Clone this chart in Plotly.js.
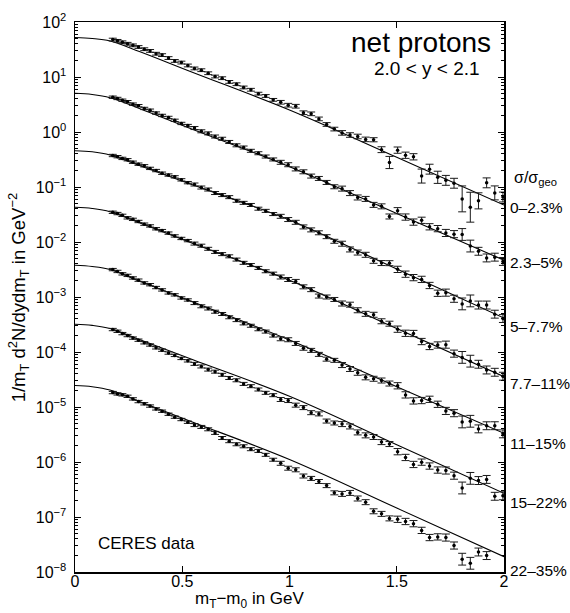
<!DOCTYPE html>
<html><head><meta charset="utf-8">
<script src="https://cdn.plot.ly/plotly-3.0.1.min.js"></script>
<style>html,body{margin:0;padding:0;background:#fff}#chart{width:570px;height:613px}</style>
</head><body><div id="chart"></div>
<script>
// m_T - m_0 bin centres (GeV)
const xBins = [0.176,0.198,0.221,0.245,0.270,0.296,0.323,0.350,0.378,0.406,0.436,0.465,0.496,0.526,0.557,0.589,0.621,0.653,0.686,0.719,0.753,0.786,0.820,0.855,0.889,0.924,0.959,0.994,1.029,1.065,1.101,1.137,1.173,1.209,1.245,1.282,1.318,1.355,1.392,1.429,1.466,1.504,1.541,1.578,1.616,1.653,1.691,1.729,1.767,1.805,1.843,1.881,1.919,1.957,1.995];

// spectra per centrality class (already offset by the plot's scale factors)
const s1 = [47.9,45.4,42.8,40.2,37.6,35.1,32.0,29.8,26.5,25.0,22.1,19.6,18.3,16.2,14.3,13.3,11.7,10.2,9.51,8.14,7.39,6.45,5.86,4.98,4.52,3.84,3.47,3.07,2.94,2.24,2.14,1.73,1.37,1.13,0.963,0.881,0.829,0.734,0.723,0.477,0.279,0.468,0.378,0.354,0.158,0.211,0.150,0.132,0.117,0.0608,0.0429,0.056,0.119,0.0781,0.0657];
const s2 = [4.29,4.07,3.78,3.56,3.21,3.01,2.68,2.49,2.21,2.00,1.84,1.63,1.43,1.31,1.18,1.03,0.944,0.828,0.754,0.659,0.573,0.522,0.455,0.411,0.358,0.317,0.281,0.254,0.213,0.189,0.158,0.143,0.121,0.101,0.0934,0.0775,0.0645,0.0607,0.0473,0.0445,0.0291,0.0370,0.0284,0.0230,0.0248,0.0189,0.0175,0.0146,0.0139,0.0137,0.00844,0.00678,0.00513,0.00530,0.00443];
const s3 = [0.374,0.356,0.331,0.313,0.282,0.260,0.243,0.218,0.199,0.178,0.165,0.153,0.135,0.120,0.111,0.0978,0.0900,0.0777,0.0713,0.0654,0.0562,0.0515,0.0471,0.0403,0.0368,0.0322,0.0293,0.0256,0.0228,0.0188,0.0166,0.0147,0.0125,0.0103,0.00931,0.00732,0.00643,0.00585,0.00455,0.00414,0.00412,0.00318,0.00260,0.00225,0.00209,0.00162,0.00117,0.00120,0.000929,0.000749,0.000849,0.000714,0.000714,0.000487,0.000406];
const s4 = [0.0347,0.0329,0.0305,0.0275,0.0258,0.0236,0.0211,0.0196,0.0174,0.0161,0.0145,0.0129,0.0116,0.0106,0.00936,0.00857,0.00752,0.00660,0.00602,0.00549,0.00479,0.00418,0.00381,0.00338,0.00294,0.00266,0.00231,0.00208,0.00192,0.00153,0.00136,0.00104,0.00100,0.000902,0.000761,0.000725,0.000574,0.000494,0.000475,0.000362,0.000327,0.000260,0.000219,0.000217,0.000155,0.000126,0.000134,0.000136,9.34e-5,7.98e-5,6.81e-5,5.99e-5,4.71e-5,4.28e-5,3.63e-5];
const s5 = [3.15e-3,2.915e-3,2.634e-3,2.472e-3,2.217e-3,2.024e-3,1.803e-3,1.674e-3,1.485e-3,1.346e-3,1.186e-3,1.094e-3,9.60e-4,8.83e-4,7.75e-4,6.78e-4,6.18e-4,5.40e-4,4.91e-4,4.28e-4,3.80e-4,3.31e-4,3.00e-4,2.59e-4,2.35e-4,1.99e-4,1.74e-4,1.67e-4,1.43e-4,1.17e-4,1.07e-4,9.05e-5,7.41e-5,7.05e-5,5.79e-5,4.91e-5,4.19e-5,3.46e-5,3.26e-5,3.03e-5,2.67e-5,2.43e-5,1.66e-5,1.29e-5,1.31e-5,1.38e-5,1.12e-5,8.48e-6,7.72e-6,5.35e-6,5.50e-6,4.00e-6,4.56e-6,4.57e-6,3.25e-6];
const s6 = [2.56e-4,2.38e-4,2.16e-4,1.99e-4,1.79e-4,1.64e-4,1.47e-4,1.34e-4,1.19e-4,1.08e-4,9.57e-5,8.67e-5,7.64e-5,6.90e-5,6.08e-5,5.46e-5,4.79e-5,4.39e-5,3.85e-5,3.37e-5,3.06e-5,2.63e-5,2.39e-5,2.08e-5,1.81e-5,1.64e-5,1.37e-5,1.31e-5,1.08e-5,9.75e-6,7.88e-6,7.49e-6,5.55e-6,5.12e-6,4.89e-6,4.43e-6,3.45e-6,3.05e-6,2.85e-6,2.30e-6,2.12e-6,1.54e-6,1.21e-6,9.02e-7,9.94e-7,8.44e-7,7.14e-7,7.00e-7,5.64e-7,3.37e-7,5.04e-7,4.60e-7,4.82e-7,2.38e-7,2.43e-7];
const s7 = [1.83e-5,1.73e-5,1.665e-5,1.564e-5,1.404e-5,1.255e-5,1.143e-5,1.04e-5,9.24e-6,8.38e-6,7.39e-6,6.54e-6,5.92e-6,5.29e-6,4.69e-6,4.34e-6,3.93e-6,3.38e-6,2.73e-6,2.39e-6,2.10e-6,1.93e-6,1.71e-6,1.59e-6,1.35e-6,1.10e-6,9.47e-7,7.71e-7,7.21e-7,5.56e-7,5.03e-7,4.42e-7,3.72e-7,2.75e-7,2.63e-7,2.74e-7,2.17e-7,1.86e-7,1.27e-7,1.14e-7,9.43e-8,9.09e-8,8.29e-8,7.56e-8,5.71e-8,4.23e-8,4.35e-8,4.23e-8,3.03e-8,1.71e-8,1.44e-8,2.31e-8,1.99e-8,null,null];

// relative statistical errors
const errRelTop = [0.06,0.06,0.06,0.06,0.06,0.06,0.06,0.06,0.06,0.06,0.06,0.06,0.06,0.06,0.06,0.06,0.06,0.06,0.06,0.06,0.06,0.06,0.06,0.06,0.06,0.06,0.08,0.08,0.08,0.08,0.08,0.08,0.08,0.08,0.10,0.10,0.10,0.10,0.09,0.13,0.29,0.14,0.14,0.14,0.34,0.23,0.29,0.23,0.23,0.72,0.87,0.40,0.23,0.34,0.23];
const errRel = [0.05,0.05,0.05,0.05,0.05,0.05,0.05,0.05,0.05,0.05,0.05,0.05,0.05,0.05,0.065,0.065,0.065,0.065,0.065,0.065,0.065,0.065,0.065,0.065,0.065,0.065,0.087,0.087,0.087,0.087,0.087,0.087,0.087,0.087,0.11,0.11,0.11,0.11,0.11,0.11,0.11,0.14,0.14,0.14,0.14,0.14,0.14,0.16,0.16,0.28,0.28,0.18,0.18,0.18,0.18];

// fit curves
const xFit = [0,0.08,0.163,0.3,0.55,1.0,1.5,2.0];
const fit1 = [52.3,50.1,45.1,29.1,12.07,2.512,0.3467,0.04707];
const fit2 = [5.053,4.806,4.204,2.675,1.110,0.2339,0.03297,0.004668];
const fit3 = [0.4571,0.4365,0.3818,0.2460,0.1087,0.02512,0.003229,0.0004151];
const fit4 = [0.04276,0.04066,0.03556,0.02234,0.009391,0.002012,0.0002675,3.556e-5];
const fit5 = [0.003771,0.003585,0.003162,0.001954,0.0008111,0.0001652,2.339e-5,3.324e-6];
const fit6 = [3.201e-4,3.045e-4,2.675e-4,1.688e-4,7.215e-5,1.565e-5,2.055e-6,2.698e-7];
const fit7 = [2.460e-5,2.339e-5,2.037e-5,1.264e-5,5.292e-6,1.110e-6,1.451e-7,1.898e-8];

const centralityLabels = ['0–2.3%','2.3–5%','5–7.7%','7.7–11%','11–15%','15–22%','22–35%'];
const yTickVals = [1e-8,1e-7,1e-6,1e-5,1e-4,1e-3,1e-2,1e-1,1,10,100];
const yTickText = ['10<sup>−8</sup>','10<sup>−7</sup>','10<sup>−6</sup>','10<sup>−5</sup>','10<sup>−4</sup>','10<sup>−3</sup>','10<sup>−2</sup>','10<sup>−1</sup>','10<sup>0</sup>','10<sup>1</sup>','10<sup>2</sup>'];
const xTickVals = [0,0.5,1,1.5,2];
const xTickText = ['0','0.5','1','1.5','2'];

const FONT = 'Liberation Sans, Arial, Helvetica, sans-serif';
const series = [s1,s2,s3,s4,s5,s6,s7];
const fits = [fit1,fit2,fit3,fit4,fit5,fit6,fit7];
const errs = [errRelTop,errRel,errRel,errRel,errRel,errRel,errRel];

const traces = [];
fits.forEach(f => traces.push({x:xFit, y:f, mode:'lines', line:{color:'black', width:1.1, shape:'spline', smoothing:1}, hoverinfo:'skip', showlegend:false}));
series.forEach((s,k) => {
  const r = errs[k];
  traces.push({
    x:xBins, y:s, mode:'markers', showlegend:false,
    marker:{color:'black', size:3.5},
    error_y:{type:'data', symmetric:false,
      array:s.map((v,i)=> v==null?null:v*r[i]),
      arrayminus:s.map((v,i)=> v==null?null:v*r[i]/(1+r[i])),
      color:'#1a1a1a', thickness:1, width:4}
  });
});

// label positions (paper coords) for centrality classes
const labelY = [0.662,0.562,0.4455,0.3436,0.2345,0.1255,0.0036];
const annotations = centralityLabels.map((t,i)=>({xref:'paper',yref:'paper',x:1.0085,y:labelY[i],xanchor:'left',yanchor:'middle',text:t,showarrow:false,font:{size:15.5}}));
annotations.push({xref:'paper',yref:'paper',x:1.018,y:0.716,xanchor:'left',yanchor:'middle',text:'σ/σ<sub>geo</sub>',showarrow:false,font:{size:16}});
annotations.push({xref:'paper',yref:'paper',x:0.974,y:0.962,xanchor:'right',yanchor:'middle',text:'net protons',showarrow:false,font:{size:28}});
annotations.push({xref:'paper',yref:'paper',x:0.949,y:0.915,xanchor:'right',yanchor:'middle',text:'2.0 &lt; y &lt; 2.1',showarrow:false,font:{size:19}});
annotations.push({xref:'paper',yref:'paper',x:0.05,y:0.052,xanchor:'left',yanchor:'middle',text:'CERES data',showarrow:false,font:{size:17}});
annotations.push({xref:'paper',yref:'paper',x:0.408,y:-0.051,xanchor:'center',yanchor:'middle',text:'m<sub>T</sub>−m<sub>0</sub> in GeV',showarrow:false,font:{size:17}});
annotations.push({xref:'paper',yref:'paper',x:-0.132,y:0.5,xanchor:'center',yanchor:'middle',textangle:-90,text:'1/m<sub>T</sub> d<sup>2</sup>N/dydm<sub>T</sub> in GeV<sup>−2</sup>',showarrow:false,font:{size:18.5}});

const layout = {
  width:570, height:613,
  margin:{l:75, r:66, t:22, b:41},
  paper_bgcolor:'white', plot_bgcolor:'white', showlegend:false,
  font:{family:FONT, color:'black', size:16},
  xaxis:{range:[0,2], tickmode:'array', tickvals:xTickVals, ticktext:xTickText,
    ticks:'inside', ticklen:6, tickwidth:1, tickcolor:'black',
    showline:true, linecolor:'black', linewidth:1.5, mirror:'ticks',
    showgrid:false, zeroline:false, tickfont:{size:16}, ticklabelstandoff:-6},
  yaxis:{type:'log', range:[-8,2], tickmode:'array', tickvals:yTickVals, ticktext:yTickText,
    ticks:'inside', ticklen:6, tickwidth:1, tickcolor:'black',
    showline:true, linecolor:'black', linewidth:1.5, mirror:'ticks',
    showgrid:false, zeroline:false, tickfont:{size:16}, ticklabelstandoff:4,
    minor:{ticks:'inside', ticklen:3, dtick:'D1', tickcolor:'black', tickwidth:1, showgrid:false}},
  annotations:annotations
};
Plotly.newPlot('chart', traces, layout, {displayModeBar:false, staticPlot:true});
</script></body></html>
